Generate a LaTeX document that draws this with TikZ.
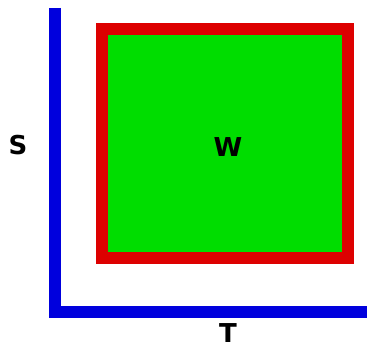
\documentclass[tikz,border=0pt]{standalone}
\usepackage{fontspec}
\setsansfont{DejaVu Sans}
\usepackage{xcolor}
\usepackage{tikz}
\usetikzlibrary{positioning}
\definecolor{axisblue}{HTML}{0000DD}
\definecolor{edgered}{HTML}{DD0000}
\definecolor{fillgreen}{HTML}{00DD00}
\tikzset{
  axis/.style={draw=axisblue,line width=12pt,line join=miter},
  wbox/.style={rectangle,draw=edgered,fill=fillgreen,line width=12pt,
    minimum width=246pt,minimum height=229pt,inner sep=0pt},
  lbl/.style={font=\sffamily\bfseries\fontsize{26}{30}\selectfont,inner sep=0pt},
}

\begin{document}
\begin{tikzpicture}[x=1pt,y=1pt]
  \useasboundingbox (0,0) rectangle (367,347);
  \coordinate (top) at (55,339);
  \coordinate (origin) at (55,34.5);
  \coordinate (end) at (380,34.5);
  \draw[axis] (top)--(origin)--(end);
  \node[wbox] (box) at (225,203.5) {};
  \node[lbl] (w) at (228,199.5) {W};
  \node[lbl] (s) at (18,202) {S};
  \node[lbl] (t) at (228,13.5) {T};
\end{tikzpicture}
\end{document}
